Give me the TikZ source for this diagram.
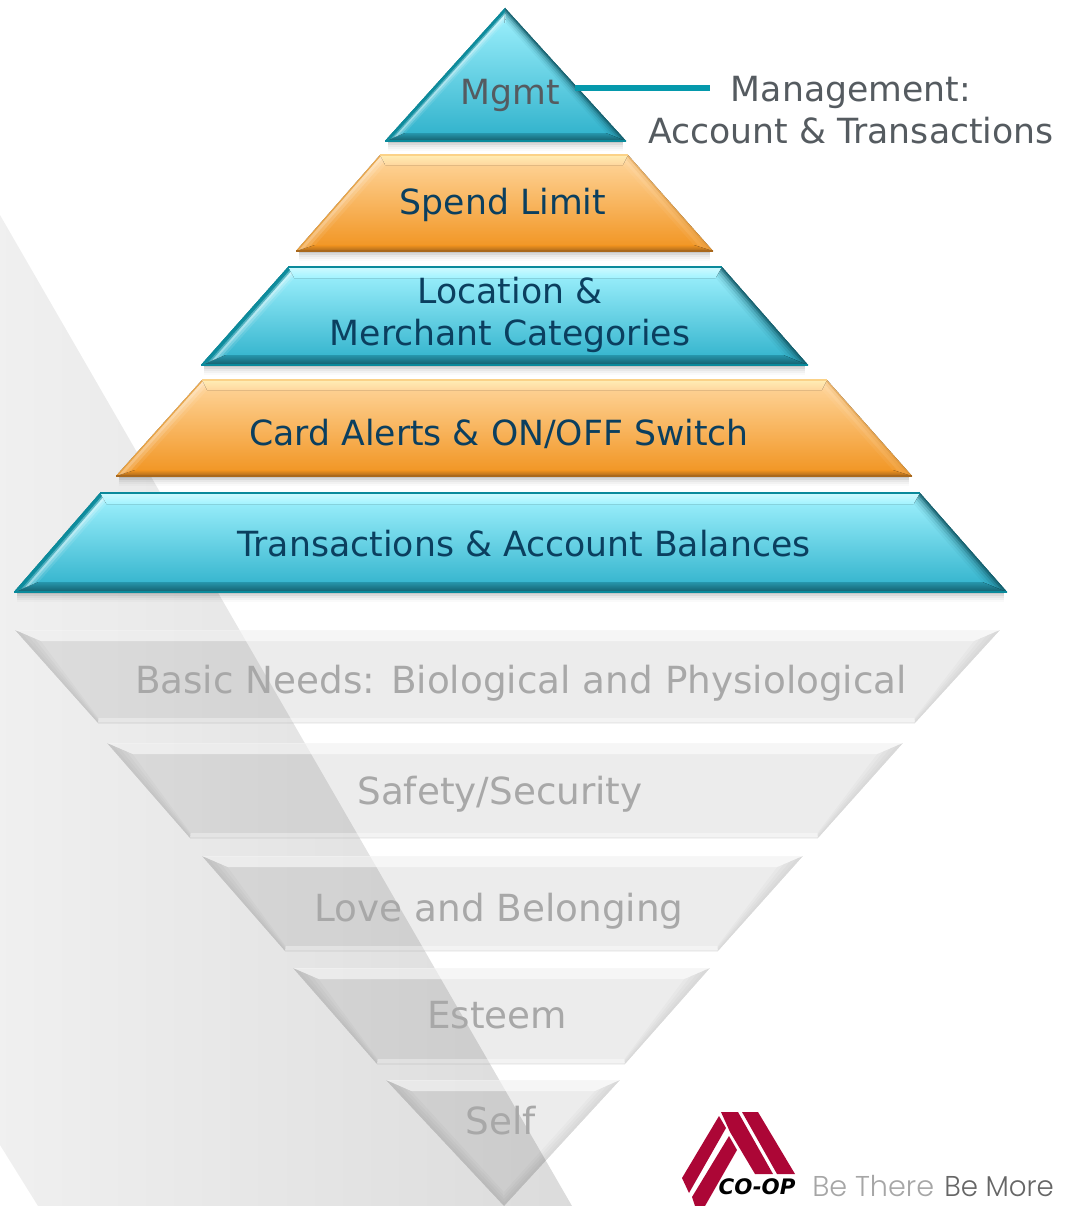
\documentclass[tikz,border=0pt]{standalone}
\usepackage{fontspec}
\setmainfont{DejaVu Sans}
\newfontfamily\tagfont{Poppins}[UprightFont=* Light]
\usetikzlibrary{calc}
\definecolor{labelblue}{HTML}{0B3F5F}
\definecolor{labelgrey}{HTML}{555B60}
\definecolor{ghost}{HTML}{A8A8A8}
\definecolor{coopred}{HTML}{AC0636}
\definecolor{leader}{HTML}{0599AC}
\newcommand{\botS}{16}
\newcommand{\leftramp}{}
\newcommand{\rightramp}{}
% #1 top y, #2 bottom y, #3 xTL, #4 xTR, #5 xBL, #6 xBR, #7 top inset, #8 bottom inset, #9 top side inset
\newcommand{\bevelsolid}[9]{%
  \pgfmathsetmacro{\iT}{#1+#7}\pgfmathsetmacro{\iB}{#2-#8}%
  \pgfmathsetmacro{\aTL}{#3+(#5-#3)*#7/(#2-#1)+#9}%
  \pgfmathsetmacro{\aTR}{#4+(#6-#4)*#7/(#2-#1)-#9}%
  \pgfmathsetmacro{\aBL}{#5+(#3-#5)*#8/(#2-#1)+\botS}%
  \pgfmathsetmacro{\aBR}{#6+(#4-#6)*#8/(#2-#1)-\botS}%
  \coordinate (TL) at (#3,#1);\coordinate (TR) at (#4,#1);
  \coordinate (BL) at (#5,#2);\coordinate (BR) at (#6,#2);
  \coordinate (iTL) at (\aTL,\iT);\coordinate (iTR) at (\aTR,\iT);
  \coordinate (iBL) at (\aBL,\iB);\coordinate (iBR) at (\aBR,\iB);
  \fill[facefill] (TL) -- (TR) -- (BR) -- (BL) -- cycle;
  \fill[topbevel] (TL) -- (TR) -- (iTR) -- (iTL) -- cycle;
  \fill[botbevel] (BL) -- (iBL) -- (iBR) -- (BR) -- cycle;
  \foreach \rf/\rc/\ro in \leftramp {
    \fill[\rc,opacity=\ro] (TL) -- ($(TL)!\rf!(iTL)$) -- ($(BL)!\rf!(iBL)$) -- (BL) -- cycle;}
  \foreach \rf/\rc/\ro in \rightramp {
    \fill[\rc,opacity=\ro] (TR) -- ($(TR)!\rf!(iTR)$) -- ($(BR)!\rf!(iBR)$) -- (BR) -- cycle;}
  \draw[topedge] (TL) -- (TR);
  \draw[botedge] (BL) -- (BR);
}
\newcommand{\dropshadow}[3]{%
  \foreach \k/\o in {1/.22,3/.15,5/.09,7/.05,9/.02}{
    \draw[black,opacity=\o,line width=2.2] (#2+3,#1+\k) -- (#3-3,#1+\k);}
}
\tikzset{
  teal set/.style={
    facefill/.style={top color=tealA,middle color=tealM,bottom color=tealB},
    topbevel/.style={top color=tealE,bottom color=tealA},
    botbevel/.style={top color=tealB!85!black,bottom color=tealD},
    topedge/.style={draw=tealC,line width=1.3},
    botedge/.style={draw=tealC,line width=.9}},
  orange set/.style={
    facefill/.style={top color=orA,bottom color=orB},
    topbevel/.style={top color=orE,bottom color=orA},
    botbevel/.style={top color=orB,bottom color=orD},
    topedge/.style={draw=orE!70!orB,line width=1},
    botedge/.style={draw=orD,line width=.9}},
  ghost set/.style={
    facefill/.style={fill=black,opacity=.075},
    topbevel/.style={fill=white,opacity=.55},
    botbevel/.style={fill=white,opacity=.35},
    topedge/.style={draw=white,opacity=.2,line width=.4},
    botedge/.style={draw=black,opacity=.04,line width=1}},
  lab/.style={anchor=base,text=labelblue,font=\fontsize{26}{31}\selectfont,inner sep=0},
  ghostlab/.style={anchor=base,text=ghost,font=\fontsize{28}{31}\selectfont,inner sep=0},
  greylab/.style={text=labelgrey,font=\fontsize{26}{31.5}\selectfont,inner sep=0},
  logoband/.style={fill=coopred},
  taglab/.style={anchor=base west,inner sep=0,font=\tagfont\fontsize{21.5}{26}\selectfont}
}
\definecolor{tealA}{HTML}{A2F3FF}\definecolor{tealB}{HTML}{2DB0CA}
\definecolor{tealM}{HTML}{74D9EB}
\definecolor{tealC}{HTML}{0B8A9B}\definecolor{tealD}{HTML}{145E6C}
\definecolor{tealE}{HTML}{CFFAFF}
\definecolor{orA}{HTML}{FFD79E}\definecolor{orB}{HTML}{F1931F}
\definecolor{orC}{HTML}{E59A33}\definecolor{orD}{HTML}{A9681C}
\definecolor{orE}{HTML}{FFEDB5}\definecolor{orH}{HTML}{D08A30}
\begin{document}
\begin{tikzpicture}[x=0.75pt,y=-0.75pt]
\useasboundingbox (0,0) rectangle (1070,1206);
\clip (0,0) rectangle (1070,1206);
% background band
\shade[left color=white!94!black,right color=white!86!black]
  (0,215) -- (572,1206) -- (38,1206) -- (0,1145) -- cycle;
% ghost (inverted) solids
\begin{scope}[ghost set]
\renewcommand{\botS}{5}
\renewcommand{\leftramp}{1/black/.02,.75/black/.025,.5/black/.025,.25/black/.02}
\renewcommand{\rightramp}{1/black/.02,.75/black/.025,.5/black/.025,.25/black/.02}
\bevelsolid{630}{723}{15}{1000}{98}{915}{11}{5}{16}
\bevelsolid{743}{838}{107}{903}{190}{818}{11}{5}{16}
\bevelsolid{856}{951}{202}{803}{285}{718}{11}{5}{16}
\bevelsolid{968}{1064}{293}{710}{377}{625}{11}{5}{16}
\renewcommand{\botS}{13}
\bevelsolid{1080}{1206}{386}{620}{504}{504}{11}{14}{15}
\end{scope}
% upper solids
\dropshadow{141}{385}{626}
\dropshadow{251}{296}{713}
\dropshadow{365}{201}{808}
\dropshadow{476}{116}{912}
\dropshadow{592}{14}{1007}
\begin{scope}[teal set]
\renewcommand{\leftramp}{1/white/.1,.8/white/.2,.6/white/.3,.42/tealC/.55,.28/tealC/.9,.12/tealC/1}
\renewcommand{\rightramp}{1/tealD/.06,.8/tealD/.1,.6/tealD/.18,.4/tealD/.3,.22/tealD/.55,.08/tealD/.9}
\renewcommand{\botS}{13}
\bevelsolid{8}{141}{505}{505}{385}{626}{15}{8}{13}
\renewcommand{\botS}{16}
\bevelsolid{267}{365}{288}{722}{201}{808}{11}{10}{16}
\bevelsolid{493}{592}{100}{920}{14}{1007}{11}{10}{16}
\end{scope}
\begin{scope}[orange set]
\renewcommand{\leftramp}{1/white/.08,.7/white/.15,.4/white/.2,.12/orC/.8}
\renewcommand{\rightramp}{1/white/.05,.7/white/.08,.4/orH/.12,.15/orH/.4}
\renewcommand{\botS}{14}
\bevelsolid{155}{251}{380}{628}{296}{713}{10}{6}{14}
\bevelsolid{380}{476}{202}{827}{116}{912}{10}{6}{14}
\end{scope}
% labels
\node[greylab,anchor=base] (mgmt) at (510,104) {Mgmt};
\node[lab] (spend) at (503,214) {Spend Limit};
\node[lab,align=center,anchor=center] (location) at (510,315) {Location \&\\Merchant Categories};
\node[lab] (card) at (499,445) {Card Alerts \& ON/OFF Switch};
\node[lab] (trans) at (524,556) {Transactions \& Account Balances};
\node[ghostlab] (basic) at (521,693) {Basic Needs: Biological and Physiological};
\node[ghostlab] (safety) at (500,804) {Safety/Security};
\node[ghostlab] (love) at (499,921) {Love and Belonging};
\node[ghostlab] (esteem) at (497,1028) {Esteem};
\node[ghostlab] (self) at (501,1134) {Self};
\node[greylab,align=center,anchor=center] (manage) at (851,110) {Management:\\Account \& Transactions};
% connector
\coordinate (lineA) at (575,88);
\coordinate (lineB) at (710,88);
\draw[color=leader,line width=3.8] (lineA) -- (lineB);
% logo
\fill[logoband] (719,1116) -- (726,1128) -- (689,1193) -- (682,1178) -- cycle;
\fill[logoband] (729,1136) -- (737,1150) -- (705,1206) -- (695,1206) -- (692,1197) -- cycle;
\fill[logoband] (721,1112) -- (738,1112) -- (773,1174) -- (755,1174) -- (730,1132) -- cycle;
\fill[logoband] (742,1112) -- (758,1112) -- (795,1174) -- (777,1174) -- cycle;
\node[anchor=base,inner sep=0,text=black,font=\bfseries\itshape\fontsize{16}{18}\selectfont] (coop) at (757,1194) {CO-OP};
\node[taglab,text=black!35] (tagA) at (812,1196) {Be There};
\node[taglab,text=black!60,xscale=.965,anchor=base west] (tagB) at (944,1196) {Be More};
\end{tikzpicture}
\end{document}
